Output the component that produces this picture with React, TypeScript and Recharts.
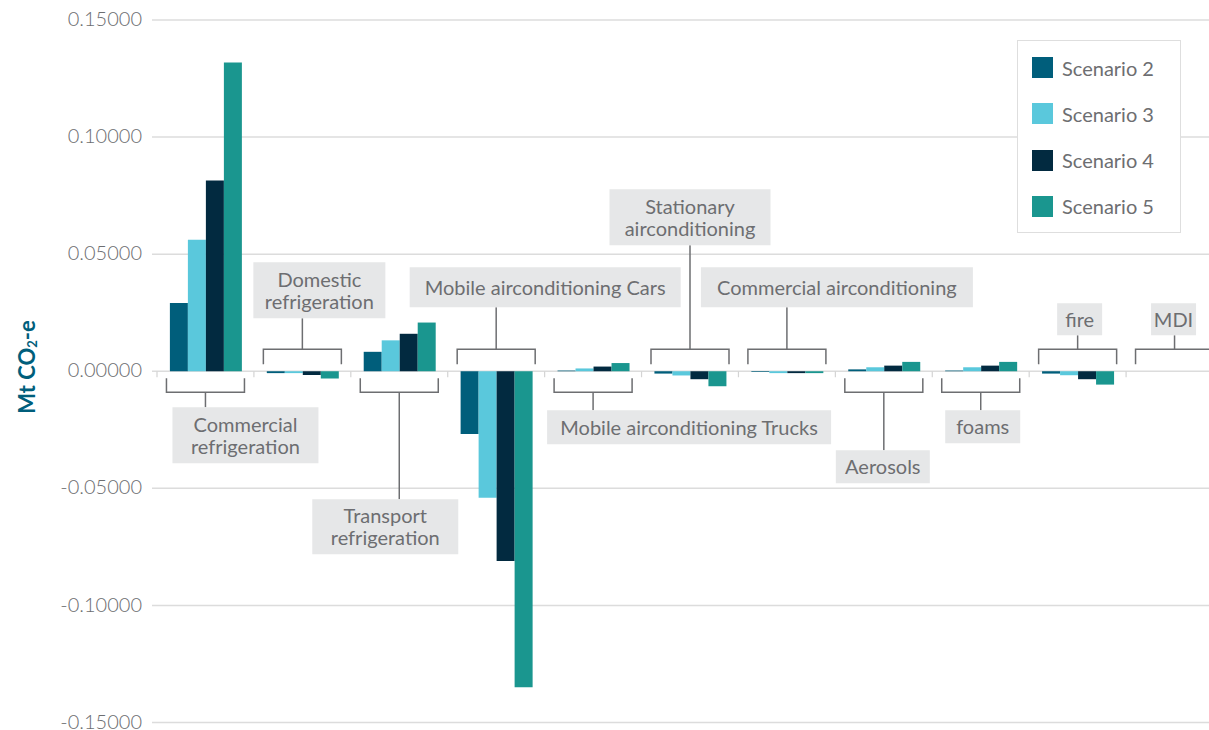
import { BarChart, Bar, XAxis, YAxis, CartesianGrid } from "recharts"

// Categories and scenario values (Mt CO2-e)
const categories = [
  "Commercial refrigeration",
  "Domestic refrigeration",
  "Transport refrigeration",
  "Mobile airconditioning Cars",
  "Mobile airconditioning Trucks",
  "Stationary airconditioning",
  "Commercial airconditioning",
  "Aerosols",
  "foams",
  "fire",
  "MDI",
]
const scenario2 = [0.0291, -0.0008, 0.0083, -0.0268, 0.0003, -0.001, -0.0003, 0.0008, 0.0003, -0.001, 0]
const scenario3 = [0.0562, -0.0008, 0.0132, -0.054, 0.0012, -0.0018, -0.0008, 0.0017, 0.0017, -0.0017, 0]
const scenario4 = [0.0815, -0.0016, 0.016, -0.081, 0.002, -0.0034, -0.0008, 0.0024, 0.0024, -0.0034, 0]
const scenario5 = [0.1319, -0.0031, 0.0208, -0.1349, 0.0035, -0.0064, -0.0008, 0.004, 0.004, -0.0057, 0]
const yTicks = [-0.15, -0.1, -0.05, 0, 0.05, 0.1, 0.15]

const series = [
  { key: "s2", name: "Scenario 2", color: "#005e7b" },
  { key: "s3", name: "Scenario 3", color: "#5ac8dc" },
  { key: "s4", name: "Scenario 4", color: "#022a40" },
  { key: "s5", name: "Scenario 5", color: "#1a968f" },
]

const data = categories.map((name, i) => ({
  name,
  s2: scenario2[i],
  s3: scenario3[i],
  s4: scenario4[i],
  s5: scenario5[i],
}))

// label boxes: where each category's callout sits, relative to the band centre / zero line
const labelLayout = [
  { lines: ["Commercial", "refrigeration"], above: false, dx: 40, top: 36, w: 146, h: 56 },
  { lines: ["Domestic", "refrigeration"], above: true, dx: 17, top: -109, w: 132, h: 56 },
  { lines: ["Transport", "refrigeration"], above: false, dx: -14, top: 128, w: 146, h: 55 },
  { lines: ["Mobile airconditioning Cars"], above: true, dx: 49, top: -104, w: 271, h: 40 },
  { lines: ["Mobile airconditioning Trucks"], above: false, dx: 96, top: 39, w: 284, h: 34 },
  { lines: ["Stationary", "airconditioning"], above: true, dx: 0, top: -182, w: 161, h: 56 },
  { lines: ["Commercial airconditioning"], above: true, dx: 50, top: -104, w: 272, h: 40 },
  { lines: ["Aerosols"], above: false, dx: -1, top: 79, w: 94, h: 33 },
  { lines: ["foams"], above: false, dx: 2, top: 39, w: 75, h: 33 },
  { lines: ["fire"], above: true, dx: 2, top: -68, w: 45, h: 32 },
  { lines: ["MDI"], above: true, dx: -1, top: -68, w: 45, h: 32 },
]

const CHART_W = 1240
const CHART_H = 730
const MARGIN = { top: 20, right: 17, bottom: 6.5, left: 10 }
const Y_AXIS_W = 142
const X_PAD_LEFT = 5
const X_AXIS_H = 1
const PLOT_LEFT = MARGIN.left + Y_AXIS_W
const PLOT_W = CHART_W - MARGIN.right - PLOT_LEFT
const PLOT_H = CHART_H - MARGIN.top - MARGIN.bottom - X_AXIS_H
const ZERO_Y = MARGIN.top + PLOT_H / 2
const BAND = (PLOT_W - X_PAD_LEFT) / categories.length

const TEXT = "#6d6e71"
const FONT = "Lato, 'Open Sans', sans-serif"

function CategoryTick(props: any) {
  const { x, payload } = props
  const idx = payload?.index ?? 0
  const lay = labelLayout[idx]
  if (!lay) return null
  const half = 39
  const lineY = lay.above ? ZERO_Y - 22 : ZERO_Y + 21
  const endY = lay.above ? ZERO_Y - 7 : ZERO_Y + 7
  const boxTop = ZERO_Y + lay.top
  const boxLeft = x + lay.dx - lay.w / 2
  const stemTo = lay.above ? boxTop + lay.h : boxTop
  const n = lay.lines.length
  return (
    <g>
      <line x1={x - BAND / 2} x2={x - BAND / 2} y1={ZERO_Y} y2={ZERO_Y + 6} stroke="#d4d4d4" strokeWidth={1.2} />
      <path
        d={`M${x - half},${endY}L${x - half},${lineY}L${x + half},${lineY}L${x + half},${endY}`}
        fill="none"
        stroke={TEXT}
        strokeWidth={1.5}
      />
      <line x1={x} x2={x} y1={lineY} y2={stemTo} stroke={TEXT} strokeWidth={1.5} />
      <rect x={boxLeft} y={boxTop} width={lay.w} height={lay.h} fill="#e6e7e8" />
      {lay.lines.map((t, i) => (
        <text
          key={t}
          x={x + lay.dx}
          y={boxTop + lay.h / 2 + 7.5 + (i - (n - 1) / 2) * 22}
          textAnchor="middle"
          fill={TEXT}
          fontSize={20}
          fontWeight={400}
          fontFamily={FONT}
        >
          {t}
        </text>
      ))}
    </g>
  )
}

function AxisTitle() {
  return (
    <text
      x={35}
      y={367}
      transform="rotate(-90, 35, 367)"
      textAnchor="middle"
      fill="#005e7b"
      fontSize={22}
      fontWeight={700}
      fontFamily={FONT}
    >
      Mt CO<tspan fontSize={13} dy={2}>2</tspan>
      <tspan dy={-2}>-e</tspan>
    </text>
  )
}

function LegendBox() {
  return (
    <div
      style={{
        position: "absolute",
        left: 1017,
        top: 40,
        width: 162,
        height: 191,
        border: "1.5px solid #dedede",
        background: "#fff",
        fontFamily: FONT,
      }}
    >
      {series.map((s, i) => (
        <div
          key={s.key}
          style={{ position: "absolute", left: 14, top: 16 + i * 46.3, display: "flex", alignItems: "center", height: 21 }}
        >
          <span style={{ width: 21, height: 21, background: s.color, display: "inline-block" }} />
          <span style={{ marginLeft: 9, fontSize: 20, fontWeight: 400, color: TEXT, whiteSpace: "nowrap" }}>{s.name}</span>
        </div>
      ))}
    </div>
  )
}

export default function App() {
  return (
    <div
      style={{
        position: "absolute",
        left: 0,
        top: 0,
        width: 1209,
        height: 730,
        overflow: "hidden",
        background: "#fff",
        fontFamily: FONT,
      }}
    >
      <BarChart
        width={CHART_W}
        height={CHART_H}
        data={data}
        margin={MARGIN}
        barCategoryGap="13.3%"
        barGap={0}
      >
        <CartesianGrid horizontal vertical={false} stroke="#dcdcdc" strokeWidth={1.5} />
        <XAxis
          dataKey="name"
          height={X_AXIS_H}
          padding={{ left: X_PAD_LEFT, right: 0 }}
          axisLine={false}
          tickLine={false}
          interval={0}
          tick={<CategoryTick />}
        />
        <YAxis
          width={Y_AXIS_W}
          domain={[-0.15, 0.15]}
          ticks={yTicks}
          interval={0}
          tickFormatter={(v: number) => v.toFixed(5)}
          axisLine={false}
          tickLine={false}
          tickMargin={4}
          tick={{ fontSize: 20, fill: TEXT, fontFamily: FONT, fontWeight: 300, dy: -1 }}
          label={<AxisTitle />}
        />
        {series.map((s) => (
          <Bar key={s.key} dataKey={s.key} name={s.name} fill={s.color} isAnimationActive={false} />
        ))}
      </BarChart>
      <LegendBox />
    </div>
  )
}
